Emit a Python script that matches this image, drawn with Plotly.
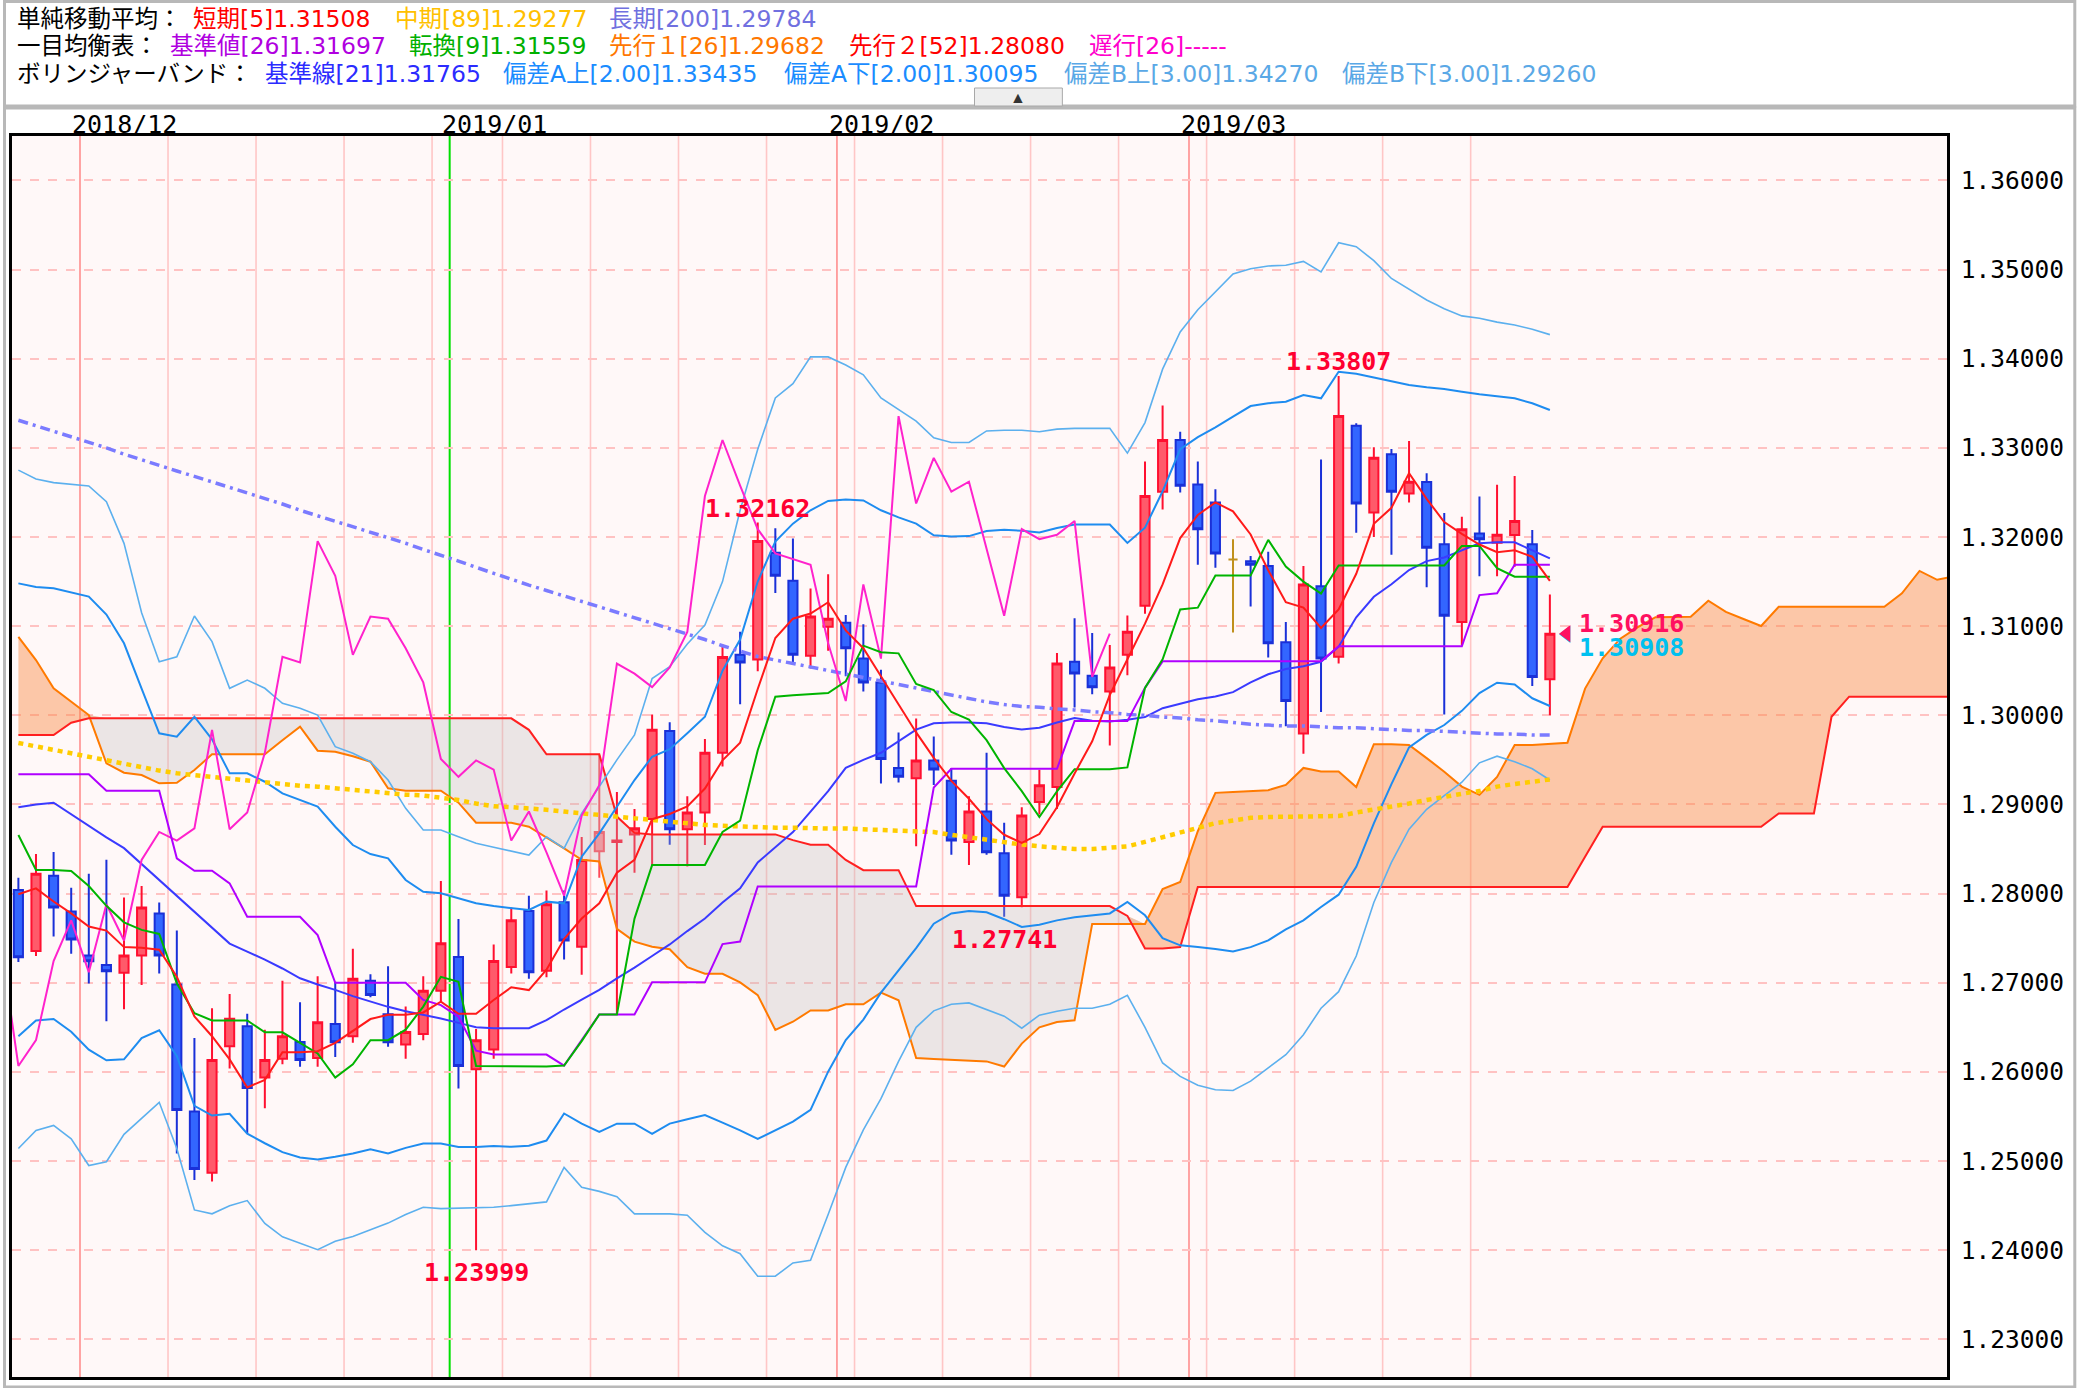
import plotly.graph_objects as go

# ---------------- data (GBP/USD daily, bar index 0 = 2018/11/27) ----------------
bar = list(range(88))

open_ = [1.28041, 1.27356, 1.28200, 1.27800, 1.27307, 1.27200, 1.27111, 1.27307, 1.27778, 1.26981,
         1.25556, 1.24870, 1.26289, 1.26511, 1.25937, 1.26148, 1.26337, 1.26156, 1.26537, 1.26400,
         1.27022, 1.26648, 1.26307, 1.26426, 1.26911, 1.27289, 1.26030, 1.26252, 1.27176, 1.27806,
         1.27136, 1.27903, 1.27405, 1.28475, 1.28580, 1.28664, 1.28836, 1.29825, 1.28721, 1.28910,
         1.29579, 1.30678, 1.30627, 1.31823, 1.31508, 1.30667, 1.30993, 1.31039, 1.30638, 1.30369,
         1.29408, 1.29293, 1.29494, 1.29265, 1.28578, 1.28921, 1.28452, 1.27960, 1.29028, 1.29196,
         1.30600, 1.30444, 1.30268, 1.30680, 1.31228, 1.32508, 1.33088, 1.32588, 1.32388, 1.31748,
         1.31728, 1.31676, 1.30820, 1.29796, 1.31448, 1.30656, 1.33248, 1.32276, 1.32928, 1.32488,
         1.32616, 1.31920, 1.31048, 1.32040, 1.31935, 1.32022, 1.31918, 1.30404]
high = [1.28178, 1.28444, 1.28467, 1.28067, 1.28222, 1.28381, 1.27956, 1.28085, 1.27900, 1.27585,
        1.26381, 1.26715, 1.26874, 1.26652, 1.26474, 1.27022, 1.26781, 1.27074, 1.27011, 1.27381,
        1.27096, 1.27185, 1.26733, 1.27074, 1.28141, 1.27715, 1.26481, 1.27430, 1.27844, 1.27977,
        1.28034, 1.28034, 1.28635, 1.29551, 1.29139, 1.28950, 1.30009, 1.29923, 1.29093, 1.29734,
        1.30798, 1.30936, 1.32162, 1.32097, 1.31983, 1.31422, 1.31582, 1.31124, 1.31021, 1.30512,
        1.29808, 1.29963, 1.29763, 1.29408, 1.29093, 1.29579, 1.28796, 1.28968, 1.29388, 1.30700,
        1.31088, 1.30924, 1.30788, 1.31120, 1.32848, 1.33476, 1.33180, 1.32848, 1.32536, 1.31976,
        1.31788, 1.31836, 1.31048, 1.31676, 1.32868, 1.33807, 1.33276, 1.33008, 1.32988, 1.33076,
        1.32716, 1.32268, 1.32228, 1.32455, 1.32586, 1.32685, 1.32079, 1.31356]
low = [1.27233, 1.27300, 1.27519, 1.27326, 1.26993, 1.26567, 1.26704, 1.26974, 1.27104, 1.25085,
       1.24789, 1.24770, 1.26037, 1.25307, 1.25593, 1.26085, 1.26059, 1.26059, 1.26167, 1.26326,
       1.26837, 1.26281, 1.26148, 1.26356, 1.26789, 1.25815, 1.23999, 1.26148, 1.27104, 1.27044,
       1.27062, 1.27262, 1.27090, 1.28177, 1.26644, 1.28235, 1.28320, 1.28549, 1.28303, 1.28544,
       1.29425, 1.30123, 1.30495, 1.31371, 1.30569, 1.30524, 1.30724, 1.30438, 1.30266, 1.29236,
       1.29247, 1.28532, 1.29219, 1.28435, 1.28320, 1.28435, 1.27741, 1.27848, 1.28888, 1.28948,
       1.30088, 1.30236, 1.29660, 1.30448, 1.31140, 1.32308, 1.32500, 1.31688, 1.31656, 1.30928,
       1.31220, 1.30648, 1.29876, 1.29568, 1.30036, 1.30580, 1.32048, 1.32000, 1.31800, 1.32388,
       1.31436, 1.30008, 1.30788, 1.31560, 1.31560, 1.31667, 1.30330, 1.30000]
close = [1.27285, 1.28222, 1.27844, 1.27485, 1.27241, 1.27130, 1.27307, 1.27844, 1.27307, 1.25574,
         1.24911, 1.26133, 1.26596, 1.25819, 1.26133, 1.26400, 1.26133, 1.26556, 1.26333, 1.27044,
         1.26863, 1.26333, 1.26448, 1.26911, 1.27444, 1.26067, 1.26356, 1.27244, 1.27700, 1.27119,
         1.27880, 1.27474, 1.28378, 1.28692, 1.28595, 1.28732, 1.29837, 1.28721, 1.28910, 1.29579,
         1.30655, 1.30592, 1.31954, 1.31565, 1.30678, 1.31107, 1.31084, 1.30753, 1.30369, 1.29511,
         1.29310, 1.29494, 1.29391, 1.28595, 1.28921, 1.28463, 1.27977, 1.28876, 1.29216, 1.30580,
         1.30468, 1.30316, 1.30536, 1.30936, 1.32460, 1.33088, 1.32576, 1.32088, 1.31816, 1.31748,
         1.31688, 1.30808, 1.30160, 1.31468, 1.30636, 1.33356, 1.32376, 1.32888, 1.32508, 1.32620,
         1.31880, 1.31116, 1.32088, 1.31975, 1.32025, 1.32180, 1.30431, 1.30916]

sma5 = [1.27993, 1.28059, 1.27911, 1.27778, 1.27630, 1.27585, 1.27400, 1.27393, 1.27370, 1.27067,
        1.26622, 1.26400, 1.26141, 1.25826, 1.25911, 1.26222, 1.26222, 1.26233, 1.26326, 1.26456,
        1.26593, 1.26641, 1.26641, 1.26667, 1.26789, 1.26652, 1.26652, 1.26807, 1.26950, 1.26918,
        1.27147, 1.27491, 1.27720, 1.27891, 1.28235, 1.28378, 1.28835, 1.28893, 1.28979, 1.29179,
        1.29494, 1.29694, 1.30295, 1.30867, 1.31084, 1.31142, 1.31268, 1.30953, 1.30753, 1.30438,
        1.30123, 1.29808, 1.29522, 1.29265, 1.29064, 1.28835, 1.28660, 1.28570, 1.28668, 1.28968,
        1.29348, 1.29708, 1.30228, 1.30628, 1.31028, 1.31468, 1.31988, 1.32248, 1.32388, 1.32288,
        1.32028, 1.31628, 1.31268, 1.31208, 1.30980, 1.31188, 1.31588, 1.32148, 1.32328, 1.32716,
        1.32428, 1.32168, 1.32036, 1.31916, 1.31830, 1.31850, 1.31779, 1.31508]
sma89 = [1.2969, 1.2965, 1.2961, 1.2957, 1.2954, 1.2950, 1.2946, 1.2942, 1.2938, 1.2935,
         1.2933, 1.2931, 1.2929, 1.2926, 1.2924, 1.2923, 1.2921, 1.2920, 1.2918, 1.2917,
         1.2915, 1.2913, 1.2911, 1.2910, 1.2908, 1.2905, 1.2901, 1.2898, 1.2897, 1.2896,
         1.2894, 1.2892, 1.2890, 1.2888, 1.2886, 1.2884, 1.2882, 1.2880, 1.2878, 1.2877,
         1.2876, 1.2875, 1.2875, 1.2874, 1.2874, 1.2873, 1.2873, 1.2873, 1.2872, 1.2871,
         1.2870, 1.2869, 1.2869, 1.2866, 1.2863, 1.2860, 1.2857, 1.2855, 1.2853, 1.2851,
         1.2850, 1.2850, 1.2851, 1.2853, 1.2858, 1.2863, 1.2868, 1.2873, 1.2879, 1.2882,
         1.2885, 1.2886, 1.2886, 1.2886, 1.2886, 1.2887, 1.2891, 1.2894, 1.2897, 1.2901,
         1.2905, 1.2909, 1.2912, 1.2915, 1.2920, 1.2923, 1.2926, 1.2928]
sma200 = [1.3331, 1.3325, 1.3318, 1.3312, 1.3306, 1.3300, 1.3293, 1.3287, 1.3281, 1.3274,
          1.3268, 1.3262, 1.3256, 1.3249, 1.3243, 1.3237, 1.3230, 1.3224, 1.3218, 1.3211,
          1.3205, 1.3199, 1.3193, 1.3186, 1.3180, 1.3173, 1.3166, 1.3159, 1.3152, 1.3146,
          1.3140, 1.3134, 1.3127, 1.3121, 1.3115, 1.3109, 1.3103, 1.3097, 1.3091, 1.3085,
          1.3078, 1.3072, 1.3066, 1.3062, 1.3058, 1.3054, 1.3050, 1.3046, 1.3043, 1.3039,
          1.3035, 1.3031, 1.3027, 1.3023, 1.3019, 1.3015, 1.3012, 1.3010, 1.3009, 1.3007,
          1.3006, 1.3004, 1.3003, 1.3001, 1.3000, 1.2998, 1.2997, 1.2995, 1.2994, 1.2992,
          1.2990, 1.2989, 1.2988, 1.2988, 1.2987, 1.2986, 1.2986, 1.2985, 1.2984, 1.2983,
          1.2983, 1.2982, 1.2981, 1.2980, 1.2979, 1.2979, 1.2978, 1.2978]

tenkan = [1.28657, 1.28265, 1.28265, 1.28255, 1.28085, 1.27863, 1.27678, 1.27593, 1.27548, 1.26993,
          1.26659, 1.26578, 1.26578, 1.26578, 1.26444, 1.26444, 1.26326, 1.26207, 1.25937, 1.26085,
          1.26356, 1.26356, 1.26474, 1.26733, 1.27067, 1.27011, 1.26067, 1.26067, 1.26062, 1.26062,
          1.26062, 1.26072, 1.26346, 1.26644, 1.26644, 1.27720, 1.28320, 1.28320, 1.28320, 1.28320,
          1.28692, 1.28818, 1.29608, 1.30209, 1.30226, 1.30237, 1.30249, 1.30381, 1.30781, 1.30707,
          1.30695, 1.30352, 1.30283, 1.30037, 1.29951, 1.29722, 1.29408, 1.29150, 1.28860, 1.29148,
          1.29396, 1.29396, 1.29396, 1.29416, 1.30308, 1.30628, 1.31188, 1.31208, 1.31568, 1.31568,
          1.31568, 1.31968, 1.31668, 1.31500, 1.31365, 1.31680, 1.31680, 1.31680, 1.31680, 1.31680,
          1.31680, 1.31680, 1.31900, 1.31900, 1.31650, 1.31554, 1.31554, 1.31554]
kijun = ([1.29338] * 5 + [1.29154] * 4 + [1.28396] + [1.28257] * 2 + [1.28115] + [1.27741] * 4
         + [1.27535] + [1.27000] * 5 + [1.26807, 1.26750, 1.26619, 1.26238] + [1.26195] * 4
         + [1.26071, 1.26360] + [1.26644] * 3 + [1.27005] * 4 + [1.27434, 1.27463] + [1.28081] * 10
         + [1.29190] + [1.29400] * 7 + [1.29935] * 4 + [1.30308] + [1.30605] * 10 + [1.30775] * 8
         + [1.31348, 1.31368] + [1.31690] * 3)

lead_bar = list(range(111))
span_a = [1.30880, 1.30620, 1.30303, 1.30150, 1.30003, 1.29461, 1.29356, 1.29330, 1.29237, 1.29244,
          1.29386, 1.29562, 1.29562, 1.29562, 1.29562, 1.29720, 1.29872, 1.29603, 1.29592, 1.29540,
          1.29480, 1.29181, 1.29154, 1.29154, 1.29154, 1.29020, 1.28795, 1.28795, 1.28795, 1.28750,
          1.28630, 1.28508, 1.28380, 1.28360, 1.27604, 1.27461, 1.27404, 1.27376, 1.27175, 1.27101,
          1.27101, 1.27004, 1.26861, 1.26472, 1.26563, 1.26689, 1.26689, 1.26758, 1.26758, 1.26890,
          1.26804, 1.26157, 1.26146, 1.26135, 1.26125, 1.26118, 1.26060, 1.26318, 1.26500, 1.26560,
          1.26580, 1.27660, 1.27660, 1.27660, 1.27660, 1.28050, 1.28130, 1.28700, 1.29130, 1.29140,
          1.29150, 1.29160, 1.29220, 1.29410, 1.29370, 1.29370, 1.29196, 1.29676, 1.29676, 1.29668,
          1.29520, 1.29368, 1.29200, 1.29108, 1.29308, 1.29668, 1.29668, 1.29682, 1.29693, 1.30300,
          1.30640, 1.30860, 1.30990, 1.31100, 1.31106, 1.31106, 1.31286, 1.31160, 1.31080, 1.31002,
          1.31218, 1.31218, 1.31218, 1.31218, 1.31218, 1.31218, 1.31218, 1.31368, 1.31619, 1.31520,
          1.31560]
span_b = ([1.29778] * 3 + [1.29917] + [1.29966] * 25 + [1.29837] + [1.29562] * 4 + [1.28864, 1.28681]
          + [1.28664] * 8 + [1.28600] + [1.28549] * 2 + [1.28378] + [1.28263] * 3 + [1.27860] * 12
          + [1.27750] + [1.27384] * 2 + [1.27400] + [1.28075] * 22 + [1.28413] + [1.28750] * 10
          + [1.28900] * 3 + [1.29984] + [1.30209] * 7)

bb_mid = [1.28970, 1.29000, 1.29020, 1.28890, 1.28750, 1.28630, 1.28510, 1.28330, 1.28150, 1.27970,
          1.27800, 1.27620, 1.27440, 1.27350, 1.27260, 1.27160, 1.27050, 1.26980, 1.26920, 1.26850,
          1.26790, 1.26730, 1.26680, 1.26640, 1.26600, 1.26550, 1.26500, 1.26490, 1.26490, 1.26490,
          1.26580, 1.26700, 1.26810, 1.26920, 1.27050, 1.27170, 1.27300, 1.27430, 1.27580, 1.27720,
          1.27900, 1.28060, 1.28350, 1.28520, 1.28690, 1.28920, 1.29150, 1.29410, 1.29500, 1.29580,
          1.29710, 1.29840, 1.29910, 1.29920, 1.29920, 1.29910, 1.29870, 1.29840, 1.29860, 1.29920,
          1.29970, 1.29940, 1.29930, 1.29950, 1.29980, 1.30080, 1.30130, 1.30180, 1.30210, 1.30260,
          1.30370, 1.30460, 1.30520, 1.30550, 1.30600, 1.30770, 1.31100, 1.31330, 1.31470, 1.31630,
          1.31730, 1.31770, 1.31850, 1.31930, 1.31940, 1.31940, 1.31850, 1.31760]
bb_up2 = [1.31480, 1.31440, 1.31424, 1.31380, 1.31331, 1.31130, 1.30808, 1.30300, 1.29798, 1.29760,
          1.29984, 1.29730, 1.29349, 1.29349, 1.29255, 1.29125, 1.29050, 1.28975, 1.28750, 1.28545,
          1.28444, 1.28396, 1.28153, 1.28021, 1.28003, 1.27947, 1.27891, 1.27860, 1.27840, 1.27816,
          1.27910, 1.27891, 1.28414, 1.28676, 1.28975, 1.29274, 1.29535, 1.29620, 1.29800, 1.29984,
          1.30500, 1.30850, 1.31500, 1.31950, 1.32150, 1.32300, 1.32405, 1.32420, 1.32410, 1.32300,
          1.32220, 1.32150, 1.32019, 1.32007, 1.32010, 1.32068, 1.32080, 1.32070, 1.32050, 1.32100,
          1.32140, 1.32140, 1.32140, 1.31934, 1.32105, 1.32513, 1.32984, 1.33120, 1.33230, 1.33350,
          1.33469, 1.33500, 1.33518, 1.33593, 1.33556, 1.33854, 1.33830, 1.33790, 1.33750, 1.33705,
          1.33680, 1.33660, 1.33630, 1.33600, 1.33580, 1.33556, 1.33500, 1.33424]
bb_up3 = [1.32750, 1.32650, 1.32610, 1.32590, 1.32572, 1.32396, 1.31929, 1.31150, 1.30601, 1.30657,
          1.31114, 1.30826, 1.30303, 1.30396, 1.30303, 1.30135, 1.30079, 1.30003, 1.29648, 1.29574,
          1.29480, 1.29274, 1.28957, 1.28714, 1.28714, 1.28638, 1.28564, 1.28520, 1.28480, 1.28433,
          1.28638, 1.28508, 1.28901, 1.29200, 1.29500, 1.29779, 1.30413, 1.30545, 1.30800, 1.31013,
          1.31500, 1.32300, 1.32984, 1.33560, 1.33720, 1.34020, 1.34020, 1.33930, 1.33820, 1.33560,
          1.33430, 1.33300, 1.33112, 1.33060, 1.33060, 1.33190, 1.33198, 1.33198, 1.33180, 1.33210,
          1.33219, 1.33219, 1.33219, 1.32941, 1.33283, 1.33883, 1.34300, 1.34550, 1.34750, 1.34950,
          1.35010, 1.35040, 1.35048, 1.35092, 1.34973, 1.35301, 1.35256, 1.35100, 1.34900, 1.34780,
          1.34658, 1.34560, 1.34480, 1.34453, 1.34410, 1.34378, 1.34330, 1.34270]
bb_dn2 = [1.26400, 1.26578, 1.26593, 1.26450, 1.26250, 1.26130, 1.26141, 1.26380, 1.26467, 1.26180,
          1.25620, 1.25511, 1.25530, 1.25307, 1.25200, 1.25100, 1.25040, 1.25019, 1.25048, 1.25085,
          1.25133, 1.25085, 1.25148, 1.25196, 1.25196, 1.25159, 1.25159, 1.25170, 1.25160, 1.25173,
          1.25230, 1.25534, 1.25420, 1.25328, 1.25420, 1.25420, 1.25305, 1.25420, 1.25470, 1.25517,
          1.25431, 1.25345, 1.25248, 1.25345, 1.25442, 1.25574, 1.26003, 1.26358, 1.26587, 1.26890,
          1.27140, 1.27388, 1.27663, 1.27777, 1.27806, 1.27790, 1.27713, 1.27627, 1.27650, 1.27700,
          1.27734, 1.27760, 1.27778, 1.27906, 1.27757, 1.27500, 1.27420, 1.27400, 1.27380, 1.27350,
          1.27400, 1.27476, 1.27600, 1.27700, 1.27850, 1.27988, 1.28300, 1.28788, 1.29228, 1.29640,
          1.29780, 1.29891, 1.30050, 1.30250, 1.30366, 1.30345, 1.30191, 1.30104]
bb_dn3 = [1.25141, 1.25344, 1.25400, 1.25250, 1.24950, 1.24993, 1.25300, 1.25474, 1.25659, 1.25141,
          1.24452, 1.24408, 1.24500, 1.24557, 1.24300, 1.24150, 1.24080, 1.24006, 1.24100, 1.24155,
          1.24230, 1.24304, 1.24400, 1.24482, 1.24467, 1.24470, 1.24480, 1.24482, 1.24500, 1.24520,
          1.24542, 1.24929, 1.24705, 1.24660, 1.24600, 1.24408, 1.24408, 1.24408, 1.24393, 1.24200,
          1.24050, 1.23961, 1.23708, 1.23708, 1.23857, 1.23887, 1.24400, 1.24929, 1.25350, 1.25700,
          1.26119, 1.26500, 1.26685, 1.26759, 1.26774, 1.26700, 1.26625, 1.26491, 1.26637, 1.26680,
          1.26714, 1.26714, 1.26760, 1.26860, 1.26500, 1.26100, 1.25950, 1.25850, 1.25800, 1.25792,
          1.25896, 1.26045, 1.26193, 1.26417, 1.26714, 1.26900, 1.27300, 1.27900, 1.28351, 1.28723,
          1.28946, 1.29100, 1.29250, 1.29467, 1.29542, 1.29480, 1.29400, 1.29274]

chikou_src = list(range(24, 88))          # lagging span = close shifted back 25 bars
chikou_x = [k - 25 for k in chikou_src]
chikou_y = [close[k] for k in chikou_src]

week_start_bar = [9, 14, 19, 24, 28, 33, 38, 43, 48, 53, 58, 63, 68, 73, 78, 83]
month_start_bar = [4, 47, 67]
year_start_bar = 25
month_label_bar = [4, 25, 47, 67]
month_labels = ["2018/12", "2019/01", "2019/02", "2019/03"]
marked_highs = [42, 75]
marked_lows = [26, 56]
pink_bar = [33]
gold_doji_bar = [69]
last_bid = 1.30916
last_ask = 1.30908

header_rows = [
    [("単純移動平均：", "#000000"), ("短期[5]1.31508", "#ff0000"), ("中期[89]1.29277", "#ffc000"),
     ("長期[200]1.29784", "#7070e0")],
    [("一目均衡表：", "#000000"), ("基準値[26]1.31697", "#b000e0"), ("転換[9]1.31559", "#00b000"),
     ("先行１[26]1.29682", "#ff7700"), ("先行２[52]1.28080", "#ff0000"), ("遅行[26]-----", "#ff00cc")],
    [("ボリンジャーバンド：", "#000000"), ("基準線[21]1.31765", "#2b2bff"),
     ("偏差A上[2.00]1.33435", "#1a8cff"), ("偏差A下[2.00]1.30095", "#1a8cff"),
     ("偏差B上[3.00]1.34270", "#5aa8e6"), ("偏差B下[3.00]1.29260", "#5aa8e6")],
]
header_x = [[12, 188, 391, 605], [12, 165, 405, 605, 845, 1086], [12, 260, 499, 780, 1061, 1339]]
header_y = [18.5, 46, 73.5]

# ---------------- layout geometry (pixels) ----------------
W, H = 2080, 1388
ML, MR, MT, MB = 9, 133, 136, 11
PW, PH = W - ML - MR, H - MT - MB


def pxx(x):
    return (x - ML) / PW


def pxy(y):
    return 1 - (y - MT) / PH


fig = go.Figure()

# ---- Ichimoku cloud ----
cloud_top = [max(a, b) for a, b in zip(span_a, span_b)]
fig.add_trace(go.Scatter(x=lead_bar, y=span_b, mode="lines", line=dict(width=0), hoverinfo="skip"))
fig.add_trace(go.Scatter(x=lead_bar, y=cloud_top, mode="lines", line=dict(width=0), fill="tonexty",
                         fillcolor="rgba(249,140,70,0.45)", hoverinfo="skip"))
fig.add_trace(go.Scatter(x=lead_bar, y=span_a, mode="lines", line=dict(width=0), hoverinfo="skip"))
fig.add_trace(go.Scatter(x=lead_bar, y=cloud_top, mode="lines", line=dict(width=0), fill="tonexty",
                         fillcolor="rgba(190,185,185,0.30)", hoverinfo="skip"))
fig.add_trace(go.Scatter(x=lead_bar, y=span_a, mode="lines", line=dict(color="#ff7a00", width=2),
                         hoverinfo="skip"))
fig.add_trace(go.Scatter(x=lead_bar, y=span_b, mode="lines", line=dict(color="#ff2020", width=2),
                         hoverinfo="skip"))

# ---- candles ----
main_idx = [i for i in bar if i not in pink_bar + gold_doji_bar]


def sub(lst, idx):
    return [lst[i] for i in idx]


fig.add_trace(go.Candlestick(
    x=sub(bar, main_idx), open=sub(open_, main_idx), high=sub(high, main_idx),
    low=sub(low, main_idx), close=sub(close, main_idx),
    increasing=dict(line=dict(color="#ff1030", width=2), fillcolor="#ff5a6a"),
    decreasing=dict(line=dict(color="#1a30d8", width=2), fillcolor="#3366ff"),
    whiskerwidth=0, hoverinfo="skip"))
fig.add_trace(go.Candlestick(
    x=sub(bar, pink_bar), open=sub(open_, pink_bar), high=sub(high, pink_bar),
    low=sub(low, pink_bar), close=sub(close, pink_bar),
    increasing=dict(line=dict(color="#ff4a5a", width=2), fillcolor="#ff8f98"),
    decreasing=dict(line=dict(color="#ff4a5a", width=2), fillcolor="#ff8f98"),
    whiskerwidth=0, hoverinfo="skip"))
fig.add_trace(go.Candlestick(
    x=sub(bar, gold_doji_bar), open=sub(open_, gold_doji_bar), high=sub(high, gold_doji_bar),
    low=sub(low, gold_doji_bar), close=sub(close, gold_doji_bar),
    increasing=dict(line=dict(color="#c0901c", width=2), fillcolor="#c0901c"),
    decreasing=dict(line=dict(color="#c0901c", width=2), fillcolor="#c0901c"),
    whiskerwidth=0, hoverinfo="skip"))


# ---- indicator lines ----
def add_line(y, color, width, dash="solid", x=bar):
    fig.add_trace(go.Scatter(x=x, y=y, mode="lines", line=dict(color=color, width=width, dash=dash),
                             hoverinfo="skip"))


add_line(bb_up3, "#5cb0ee", 1.6)
add_line(bb_dn3, "#5cb0ee", 1.6)
add_line(bb_up2, "#1e8cf0", 2)
add_line(bb_dn2, "#1e8cf0", 2)
add_line(bb_mid, "#3a3aff", 2)
add_line(sma200, "#7b7bff", 3.5, "10px,5px,3px,5px")
add_line(sma89, "#ffcc00", 4.5, "5px,5px")
add_line(chikou_y, "#ff22cc", 2, x=chikou_x)
add_line(kijun, "#b000ff", 2)
add_line(tenkan, "#00b400", 2)
add_line(sma5, "#ff1a1a", 2)

# ---- last price markers ----
fig.add_trace(go.Scatter(x=[bar[-1] + 0.95], y=[last_ask], mode="markers",
                         marker=dict(symbol="triangle-left", size=15, color="#00c0f0"), hoverinfo="skip"))
fig.add_trace(go.Scatter(x=[bar[-1] + 0.95], y=[last_bid], mode="markers",
                         marker=dict(symbol="triangle-left", size=15, color="#ff1060"), hoverinfo="skip"))

annotations = []
for k in marked_highs:
    annotations.append(dict(x=k, y=high[k], xref="x", yref="y", text=f"<b>{high[k]:.5f}</b>",
                            showarrow=False, yanchor="bottom", xanchor="center", yshift=-2,
                            font=dict(family="DejaVu Sans Mono", size=25, color="#ff0030")))
for k in marked_lows:
    annotations.append(dict(x=k, y=low[k], xref="x", yref="y", text=f"<b>{low[k]:.5f}</b>",
                            showarrow=False, yanchor="top", xanchor="center", yshift=-6,
                            font=dict(family="DejaVu Sans Mono", size=25, color="#ff0030")))
annotations.append(dict(x=bar[-1] + 1.55, y=last_bid, xref="x", yref="y", text=f"<b>{last_bid:.5f}</b>",
                        showarrow=False, xanchor="left", yanchor="middle", yshift=10,
                        font=dict(family="DejaVu Sans Mono", size=25, color="#ff1060")))
annotations.append(dict(x=bar[-1] + 1.55, y=last_ask, xref="x", yref="y", text=f"<b>{last_ask:.5f}</b>",
                        showarrow=False, xanchor="left", yanchor="middle", yshift=-13,
                        font=dict(family="DejaVu Sans Mono", size=25, color="#00c0f0")))

# month labels above the plot
for b, lab in zip(month_label_bar, month_labels):
    annotations.append(dict(x=b - 0.5, y=pxy(125), xref="x", yref="paper", text=lab, showarrow=False,
                            xanchor="left", yanchor="middle", xshift=-10,
                            font=dict(family="DejaVu Sans Mono", size=25, color="#000000")))

# header rows
for row, xs, yy in zip(header_rows, header_x, header_y):
    for (txt, col), xx in zip(row, xs):
        annotations.append(dict(x=pxx(xx), y=pxy(yy), xref="paper", yref="paper", text=txt,
                                showarrow=False, xanchor="left", yanchor="middle",
                                font=dict(family="DejaVu Sans, Noto Sans CJK JP", size=23.5, color=col)))
annotations.append(dict(x=pxx(1017), y=pxy(97), xref="paper", yref="paper", text="▲", showarrow=False,
                        xanchor="center", yanchor="middle", font=dict(size=16, color="#333333")))

shapes = []
for b in week_start_bar:
    shapes.append(dict(type="line", xref="x", yref="paper", x0=b - 0.5, x1=b - 0.5, y0=0, y1=1,
                       line=dict(color="#ffc6c6", width=1.6), layer="below"))
for b in month_start_bar:
    shapes.append(dict(type="line", xref="x", yref="paper", x0=b - 0.5, x1=b - 0.5, y0=0, y1=1,
                       line=dict(color="#ff9a9a", width=1.8), layer="below"))
shapes.append(dict(type="line", xref="x", yref="paper", x0=year_start_bar - 0.5, x1=year_start_bar - 0.5,
                   y0=0, y1=1, line=dict(color="#00e000", width=2), layer="below"))
# frames
shapes.append(dict(type="rect", xref="paper", yref="paper", x0=pxx(1.5), x1=pxx(2075), y0=pxy(1.5),
                   y1=pxy(106), line=dict(color="#b8b8b8", width=3), layer="below"))
shapes.append(dict(type="rect", xref="paper", yref="paper", x0=pxx(1.5), x1=pxx(2075), y0=pxy(108),
                   y1=pxy(1387), line=dict(color="#b8b8b8", width=3), layer="below"))
shapes.append(dict(type="rect", xref="paper", yref="paper", x0=pxx(973), x1=pxx(1061), y0=pxy(88),
                   y1=pxy(106), line=dict(color="#a8a8a8", width=1), fillcolor="#eeeeee", layer="below"))

fig.update_layout(
    width=W, height=H, margin=dict(l=ML, r=MR, t=MT, b=MB),
    paper_bgcolor="#ffffff", plot_bgcolor="#fff8f8", showlegend=False, boxgap=0.26,
    annotations=annotations, shapes=shapes,
    xaxis=dict(range=[-0.363, 109.56], showgrid=False, zeroline=False, showticklabels=False,
               showline=True, mirror=True, linecolor="#000000", linewidth=2.5,
               rangeslider=dict(visible=False), fixedrange=True),
    yaxis=dict(range=[1.22578, 1.36498], side="right", tick0=1.23, dtick=0.01, tickformat=".5f",
               showgrid=True, gridcolor="#ffc2c2", gridwidth=1.5, griddash="dash", zeroline=False,
               showline=True, mirror=True, linecolor="#000000", linewidth=2.5, ticks="",
               ticklabelstandoff=6,
               tickfont=dict(family="DejaVu Sans Mono", size=24.5, color="#000000")),
)

fig.write_html("out.html", config={"displayModeBar": False},
               post_script="document.body.style.margin='0px';document.body.style.overflow='hidden';")
